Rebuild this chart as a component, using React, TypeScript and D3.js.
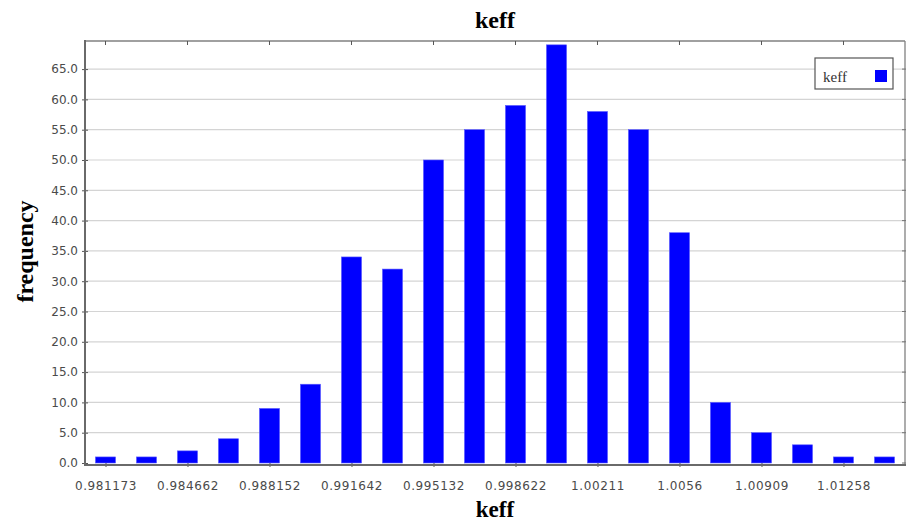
import React, { useEffect, useRef } from "react";
import * as d3 from "d3";

// histogram of keff, one entry per bin (bin centres)
const binCenters = [
  0.981173, 0.982918, 0.984662, 0.986407, 0.988152, 0.989897, 0.991642,
  0.993387, 0.995132, 0.996877, 0.998622, 1.000367, 1.00211, 1.003855,
  1.0056, 1.007345, 1.00909, 1.010835, 1.01258, 1.014325,
];
const frequency = [1, 1, 2, 4, 9, 13, 34, 32, 50, 55, 59, 69, 58, 55, 38, 10, 5, 3, 1, 1];

const xTicks = [
  0.981173, 0.984662, 0.988152, 0.991642, 0.995132, 0.998622, 1.00211, 1.0056,
  1.00909, 1.01258,
];
const yTicks = [0, 5, 10, 15, 20, 25, 30, 35, 40, 45, 50, 55, 60, 65];
const yMax = 69.8;

const seriesName = "keff";
const chartTitle = "keff";
const xLabel = "keff";
const yLabel = "frequency";

const W = 909;
const H = 524;
const plot = { left: 85, right: 905, top: 40, bottom: 463 };
const axisY = 465; // bottom axis line sits a little below zero

const serif = "'Liberation Serif', 'DejaVu Serif', serif";
const sans = "'DejaVu Sans', sans-serif";

export default function App() {
  const svgRef = useRef<SVGSVGElement>(null);

  useEffect(() => {
    const svg = d3.select(svgRef.current);
    svg.selectAll("*").remove();

    const bw = binCenters[1] - binCenters[0];
    const x = d3
      .scaleLinear()
      .domain([binCenters[0] - bw / 2, binCenters[binCenters.length - 1] + bw / 2])
      .range([plot.left, plot.right]);
    const y = d3.scaleLinear().domain([0, yMax]).range([plot.bottom, plot.top]);

    svg.append("rect").attr("width", W).attr("height", H).attr("fill", "#fff");

    // grid
    svg
      .append("g")
      .selectAll("line")
      .data(yTicks.filter((d) => d > 0))
      .join("line")
      .attr("x1", plot.left)
      .attr("x2", plot.right)
      .attr("y1", (d) => y(d))
      .attr("y2", (d) => y(d))
      .attr("stroke", "#d4d4d4")
      .attr("stroke-width", 1.2);

    // bars
    svg
      .append("g")
      .selectAll("rect")
      .data(binCenters)
      .join("rect")
      .attr("x", (d) => x(d - bw * 0.245))
      .attr("width", (d) => x(d + bw * 0.245) - x(d - bw * 0.245))
      .attr("y", (d, i) => y(frequency[i]))
      .attr("height", (d, i) => y(0) - y(frequency[i]))
      .attr("fill", "#0000ff")
      .attr("stroke", "#5a5aff")
      .attr("stroke-width", 0.6);

    // frame (top and right)
    const frame = svg.append("g").attr("stroke", "#808080").attr("stroke-width", 1.3);
    frame.append("line").attr("x1", plot.left).attr("x2", plot.right).attr("y1", plot.top + 1).attr("y2", plot.top + 1);
    frame.append("line").attr("x1", plot.right).attr("x2", plot.right).attr("y1", plot.top + 1).attr("y2", axisY);

    // top ticks
    svg
      .append("g")
      .selectAll("line")
      .data(xTicks)
      .join("line")
      .attr("x1", (d) => x(d))
      .attr("x2", (d) => x(d))
      .attr("y1", plot.top + 1)
      .attr("y2", plot.top + 5)
      .attr("stroke", "#555");

    // right ticks
    svg
      .append("g")
      .selectAll("line")
      .data(yTicks)
      .join("line")
      .attr("x1", plot.right - 3)
      .attr("x2", plot.right + 1)
      .attr("y1", (d) => y(d))
      .attr("y2", (d) => y(d))
      .attr("stroke", "#777");

    // Y Axis
    const yAxis = svg
      .append("g")
      .attr("transform", `translate(${plot.left},0)`)
      .call(
        d3
          .axisLeft(y)
          .tickValues(yTicks)
          .tickFormat(d3.format(".1f"))
          .tickSizeInner(3)
          .tickSizeOuter(0)
          .tickPadding(4)
      );
    yAxis.select(".domain").remove();
    yAxis.selectAll("line").attr("stroke", "#555").attr("x2", 3).attr("x1", -3);
    yAxis.selectAll("text").attr("fill", "#4a4a4a").style("font", `12px ${sans}`);
    svg
      .append("line")
      .attr("x1", plot.left)
      .attr("x2", plot.left)
      .attr("y1", plot.top)
      .attr("y2", axisY + 1)
      .attr("stroke", "#6a6a6a")
      .attr("stroke-width", 2);

    // X Axis
    const xAxis = svg
      .append("g")
      .attr("transform", `translate(0,${axisY})`)
      .call(
        d3
          .axisBottom(x)
          .tickValues(xTicks)
          .tickFormat((d) => String(d))
          .tickSizeInner(3)
          .tickSizeOuter(0)
          .tickPadding(13)
      );
    xAxis.select(".domain").remove();
    xAxis.selectAll("line").attr("stroke", "#555").attr("y1", -2).attr("y2", 2);
    xAxis
      .selectAll("text")
      .attr("fill", "#4a4a4a")
      .style("font", `12px ${sans}`)
      .style("letter-spacing", "0.6px");
    svg
      .append("line")
      .attr("x1", plot.left - 1)
      .attr("x2", plot.right + 1)
      .attr("y1", axisY)
      .attr("y2", axisY)
      .attr("stroke", "#6a6a6a")
      .attr("stroke-width", 2);

    // titles
    const mid = (plot.left + plot.right) / 2;
    svg
      .append("text")
      .attr("x", mid)
      .attr("y", 28)
      .attr("text-anchor", "middle")
      .style("font", `bold 24px ${serif}`)
      .text(chartTitle);
    svg
      .append("text")
      .attr("x", mid)
      .attr("y", 517)
      .attr("text-anchor", "middle")
      .style("font", `bold 23px ${serif}`)
      .text(xLabel);
    svg
      .append("text")
      .attr("transform", `translate(33,${(plot.top + plot.bottom) / 2}) rotate(-90)`)
      .attr("text-anchor", "middle")
      .style("font", `bold 24px ${serif}`)
      .text(yLabel);

    // legend
    const lg = svg.append("g").attr("transform", "translate(815,58)");
    lg.append("rect")
      .attr("width", 78)
      .attr("height", 31)
      .attr("fill", "#fff")
      .attr("stroke", "#555")
      .attr("stroke-width", 1.2);
    lg.append("text")
      .attr("x", 8)
      .attr("y", 24)
      .attr("fill", "#333")
      .style("font", `15px ${serif}`)
      .text(seriesName);
    lg.append("rect")
      .attr("x", 60)
      .attr("y", 12)
      .attr("width", 12)
      .attr("height", 12)
      .attr("fill", "#0000ff");
  }, []);

  return (
    <svg
      ref={svgRef}
      width={W}
      height={H}
      style={{ position: "absolute", left: 0, top: 0 }}
    />
  );
}
